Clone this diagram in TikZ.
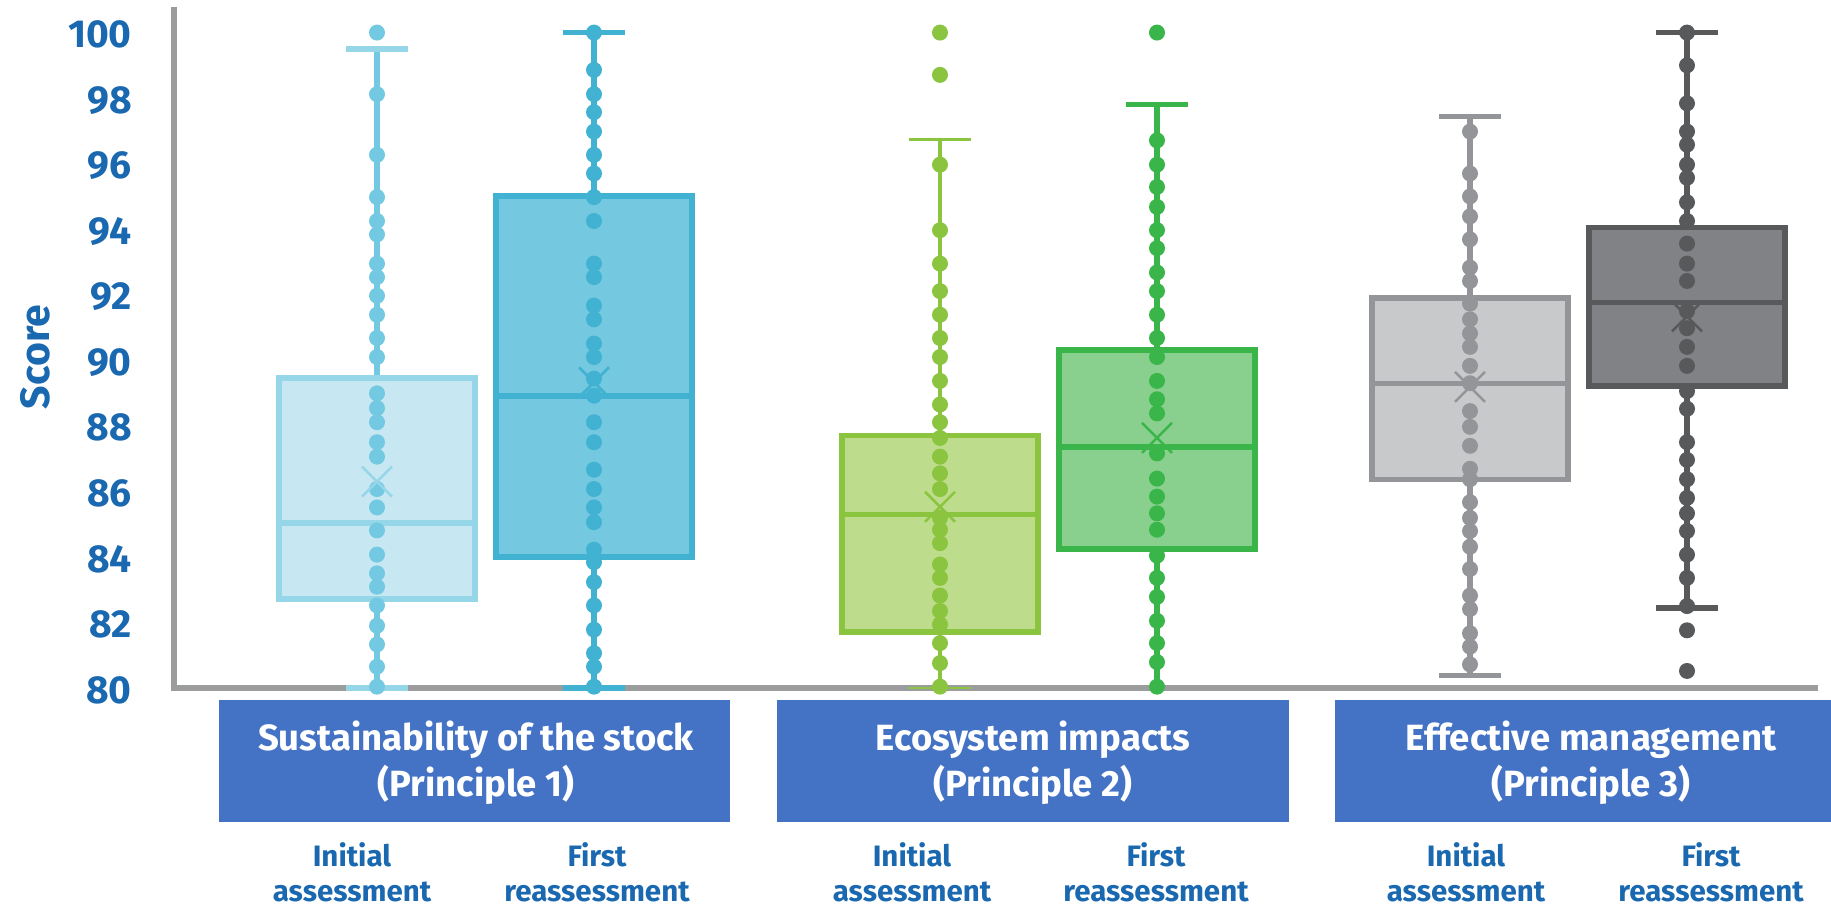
\documentclass[tikz,border=0pt]{standalone}
\usepackage{fontspec}
\setmainfont{Fira Sans}
\definecolor{axisgray}{HTML}{9B9C9E}
\definecolor{labblue}{HTML}{1A68B0}
\definecolor{catblue}{HTML}{4472C4}
\newcommand{\defser}[7]{%
 \definecolor{#1F}{HTML}{#2}\definecolor{#1L}{HTML}{#3}\definecolor{#1D}{HTML}{#7}%
 \tikzset{wh#1/.style={draw=#1D,line width=#4pt},
   cap#1/.style={draw=#1L,line width=#5pt},
   lowcap#1/.style={draw=#1L,line width=#5pt},
   bx#1/.style={fill=#1F,draw=#1L,line width=#6pt},
   md#1/.style={draw=#1L,line width=#6pt},
   dt#1/.style={fill=#1D},
   mn#1/.style={draw=#1L,line width=2.5pt}}}
\newcommand{\bxp}[9]{%
 \draw[wh#7] (#1,#2) -- (#1,#3) (#1,#5) -- (#1,#6);
 \draw[lowcap#7] (#1-31,#2) -- (#1+31,#2);
 \draw[cap#7] (#1-31,#6) -- (#1+31,#6);
 \draw[bx#7] (#1-98,#3) rectangle (#1+98,#5);
 \draw[md#7] (#1-98,#4) -- (#1+98,#4);
 \foreach \v in {#9}{\fill[dt#7] (#1,\v) circle[radius=8pt];}
 \draw[mn#7] ([shift={(-15pt,15pt)}]#1,#8) -- ([shift={(15pt,-15pt)}]#1,#8)
             ([shift={(-15pt,-15pt)}]#1,#8) -- ([shift={(15pt,15pt)}]#1,#8);
}
\defser{pa}{C7E8F3}{96D6E9}{6.5}{5.5}{6}{74C9E2}
\defser{pb}{74C8E0}{42B2D2}{6.3}{5.3}{6}{42B2D2}
\defser{pc}{BDDD8C}{8BC53F}{3.2}{2.7}{5.3}{8BC53F}
\defser{pd}{89D08F}{3AB54A}{5.5}{5.5}{6}{3AB54A}
\defser{pe}{C8C9CB}{939598}{6}{5.3}{5.3}{939598}
\defser{pf}{808285}{58595B}{6}{5.3}{5.5}{58595B}
\tikzset{lowcappd/.style={draw=none},
  axisline/.style={draw=axisgray,line width=6pt,line join=miter},
  ticklab/.style={text=labblue,font=\bfseries\fontsize{39}{39}\selectfont,inner sep=0pt},
  scorelab/.style={text=labblue,font=\bfseries\fontsize{41}{41}\selectfont,inner sep=0pt},
  catbox/.style={fill=catblue,draw=none},
  cattext/.style={text=white,font=\bfseries\fontsize{36.5}{36.5}\selectfont,inner sep=0pt,anchor=base},
  sublab/.style={text=labblue,font=\bfseries\fontsize{29.5}{29.5}\selectfont,inner sep=0pt,anchor=base}}
\begin{document}
\begin{tikzpicture}[x=1pt,y=1pt]
\useasboundingbox (0,0) rectangle (1831,910);
% axes
\draw[axisline] (174,903) -- (174,222) -- (1818,222);
\node[scorelab,rotate=90] (score) at (35,553) {Score};
\begin{scope}[y=32.77pt,yshift=-2399.6pt]
\foreach \t in {80,82,...,100}{\node[ticklab,anchor=east,yshift=-2pt] (t\t) at (132,\t) {\t};}
\bxp{377}{80}{82.71}{85.02}{89.46}{99.5}{pa}{86.3}{100,98.12,96.27,94.98,94.25,93.84,92.95,92.54,91.97,91.39,90.68,90.10,88.99,88.54,88.11,87.50,87.06,86.07,85.51,84.81,84.07,83.50,83.09,82.52,81.90,81.33,80.65,80.04}
\bxp{594}{80}{84.0}{88.92}{95.02}{100}{pb}{89.33}{100,98.86,98.12,97.57,96.98,96.27,95.70,94.98,94.25,92.95,92.54,91.67,91.25,90.51,90.10,89.44,88.92,88.11,87.50,86.66,86.07,85.51,85.06,84.22,83.84,83.23,82.52,81.78,81.06,80.65,80.04}
\bxp{940}{80}{81.71}{85.30}{87.70}{96.73}{pc}{85.53}{100,98.71,95.97,93.97,92.95,92.11,91.39,90.68,90.10,89.37,88.65,88.11,87.63,87.06,86.55,86.07,85.19,84.83,84.42,83.77,83.36,82.82,82.35,81.94,81.37,80.76,80.04}
\bxp{1157}{80}{84.23}{87.34}{90.32}{97.80}{pd}{87.63}{100,96.71,95.97,95.29,94.68,93.97,93.42,92.68,92.11,91.39,90.68,90.10,89.37,88.81,88.38,87.16,86.39,85.84,85.33,84.83,84.04,83.36,82.78,82.05,81.37,80.79,80.04}
\bxp{1470}{80.38}{86.37}{89.29}{91.90}{97.44}{pe}{89.19}{96.98,95.70,95.0,94.39,93.69,92.83,92.42,91.73,91.25,90.82,90.41,89.83,89.30,88.45,87.97,87.39,86.69,86.37,85.67,85.19,84.79,84.31,83.63,82.82,82.41,81.67,81.26,80.72}
\bxp{1687}{82.44}{89.22}{91.77}{94.05}{100}{pf}{91.34}{100,99.0,97.84,96.98,96.58,95.97,95.57,94.82,94.25,93.56,92.95,92.42,91.50,90.98,90.41,89.83,89.06,88.52,87.50,86.96,86.37,85.80,85.33,84.79,84.07,83.36,82.5,81.76,80.52}
\end{scope}
% category boxes
\fill[catbox] (219,88) rectangle (730,210);
\fill[catbox] (777,88) rectangle (1289,210);
\fill[catbox] (1335,88) rectangle (1846,210);
\node[cattext] (c1a) at (476,159) {Sustainability of the stock};
\node[cattext] (c1b) at (476,113) {(Principle 1)};
\node[cattext] (c2a) at (1033,159) {Ecosystem impacts};
\node[cattext] (c2b) at (1033,113) {(Principle 2)};
\node[cattext] (c3a) at (1591,159) {Effective management};
\node[cattext] (c3b) at (1591,113) {(Principle 3)};
% sub labels
\foreach \x/\n in {352/a,912/b,1466/c}{
  \node[sublab] (ia\n) at (\x,43) {Initial};
  \node[sublab] (ib\n) at (\x,8) {assessment};}
\foreach \x/\n in {597/a,1156/b,1711/c}{
  \node[sublab] (fa\n) at (\x,43) {First};
  \node[sublab] (fb\n) at (\x,8) {reassessment};}
\end{tikzpicture}
\end{document}
